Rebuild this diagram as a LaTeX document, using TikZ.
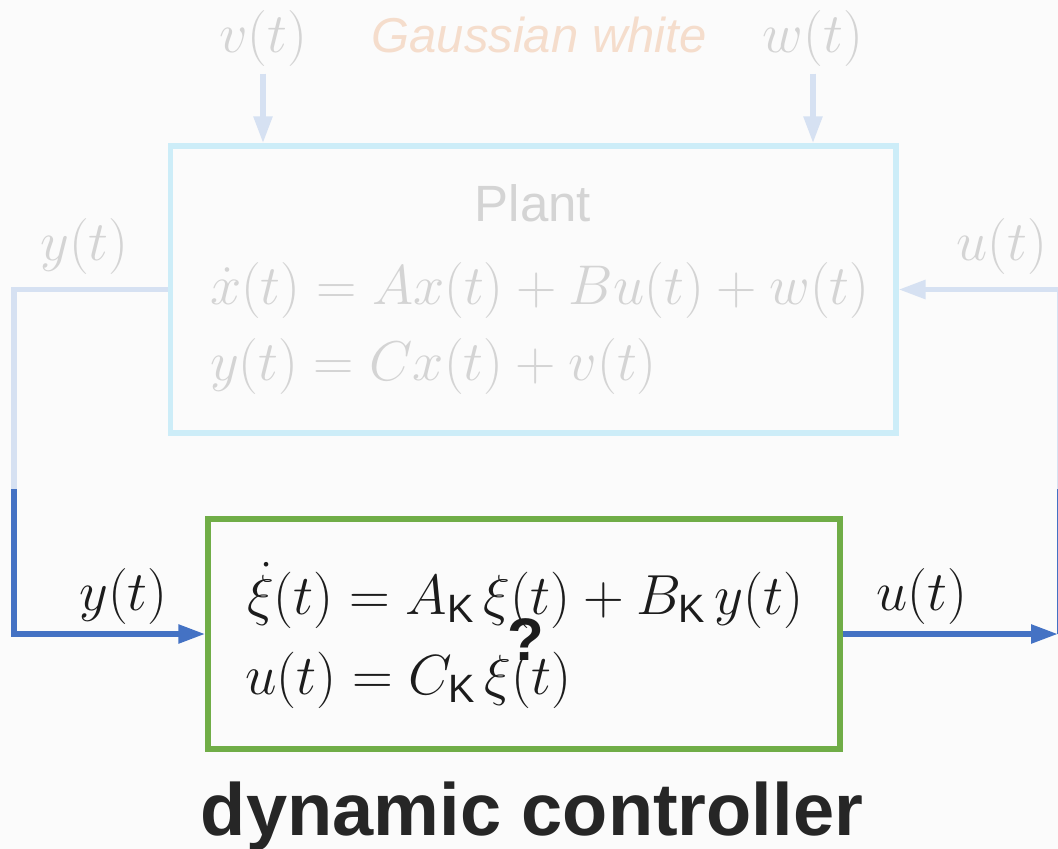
\RequirePackage{fix-cm}
\documentclass[tikz,border=0pt]{standalone}
\usepackage{fontspec}
\setsansfont{Liberation Sans}
\usetikzlibrary{arrows.meta}
\definecolor{bgc}{HTML}{FBFBFB}
\definecolor{plantc}{HTML}{CDEDF8}
\definecolor{lightconn}{HTML}{D6E1F2}
\definecolor{darkblue}{HTML}{4472C4}
\definecolor{ctrlc}{HTML}{70AD47}
\definecolor{txtgray}{HTML}{D4D4D4}
\definecolor{gauss}{HTML}{F5DDCC}
\definecolor{darktxt}{HTML}{262626}
\definecolor{eqtxt}{HTML}{1C1C1C}
\newcommand\mfs{\fontsize{56}{64}\selectfont}
\newcommand\cfs{\fontsize{56.5}{64}\selectfont}
\tikzset{
  lbl/.style={inner sep=0pt, outer sep=0pt, anchor=base},
  mathlbl/.style={lbl, font=\mfs},
  conn/.style={line width=5.5pt},
  tip/.style={-{Triangle[length=27pt,width=18pt]}},
  box/.style={line width=5.5pt, inner sep=0pt}
}
\begin{document}
\begin{tikzpicture}[x=1pt,y=-1pt]
\useasboundingbox (0,0) rectangle (1058,849);
\fill[bgc] (0,0) rectangle (1058,849);

% top labels
\node[mathlbl, text=txtgray] (vlab) at (263,52) {$v(t)$};
\node[lbl, text=gauss, font=\sffamily\itshape\fontsize{49}{55}\selectfont] (gw) at (539,52) {Gaussian white};
\node[mathlbl, text=txtgray] (wlab) at (813,52) {$w(t)$};

% plant
\node[box, draw=plantc, minimum width=725.5pt, minimum height=287pt] (plant) at (533,289.5) {};
\node[lbl, text=txtgray, font=\sffamily\fontsize{51}{60}\selectfont] (ptitle) at (533,221) {Plant};
\node[mathlbl, anchor=base west, text=txtgray] (peq1) at (210,304) {$\dot x(t) = Ax(t) + Bu(t) + w(t)$};
\node[mathlbl, anchor=base west, text=txtgray] (peq2) at (210,380) {$y(t) = Cx(t) + v(t)$};

% controller
\node[box, draw=ctrlc, minimum width=632pt, minimum height=230pt] (ctrl) at (524,634) {};
\node[lbl, font=\cfs, anchor=base west, text=eqtxt] (ceq1) at (247,614.5) {$\dot\xi(t) = A_{\mathsf{K}}\,\xi(t) + B_{\mathsf{K}}\,y(t)$};
\node[lbl, font=\cfs, anchor=base west, text=eqtxt] (ceq2) at (245,694) {$u(t) = C_{\mathsf{K}}\,\xi(t)$};
\node[lbl, text=eqtxt, font=\sffamily\bfseries\fontsize{60}{62}\selectfont] (q) at (526,660) {?};

% side labels
\node[mathlbl, text=txtgray] (ylabg) at (84.5,260) {$y(t)$};
\node[mathlbl, text=txtgray] (ulabg) at (1002,260) {$u(t)$};
\node[mathlbl, text=eqtxt] (ylab) at (123.5,610) {$y(t)$};
\node[mathlbl, text=eqtxt] (ulab) at (922,610) {$u(t)$};

\node[lbl, text=darktxt, font=\sffamily\bfseries\fontsize{74}{80}\selectfont] (title) at (532,835) {dynamic controller};

% connectors
\coordinate (ytop) at (14,289.5);
\coordinate (ymid) at (14,489);
\coordinate (ybot) at (14,634);
\coordinate (uend) at (1058,634);
\coordinate (ubot) at (1059.5,634);
\coordinate (umid) at (1059.5,489);
\coordinate (utop) at (1059.5,289.5);

\draw[conn, draw=lightconn] (plant.west) -- (ytop) -- (ymid);
\draw[conn, draw=darkblue, tip] (ymid) -- (ybot) -- (ctrl.west);
\draw[conn, draw=darkblue, tip] (ctrl.east) -- (uend);
\draw[conn, draw=darkblue] (ubot) -- (umid);
\draw[conn, draw=lightconn, tip] (umid) -- (utop) -- (plant.east);

\draw[conn, draw=lightconn, tip, shorten <=7.6pt] (vlab.south) -- (vlab.south |- plant.north);
\draw[conn, draw=lightconn, tip, shorten <=7.6pt] (wlab.south) -- (wlab.south |- plant.north);
\end{tikzpicture}
\end{document}
